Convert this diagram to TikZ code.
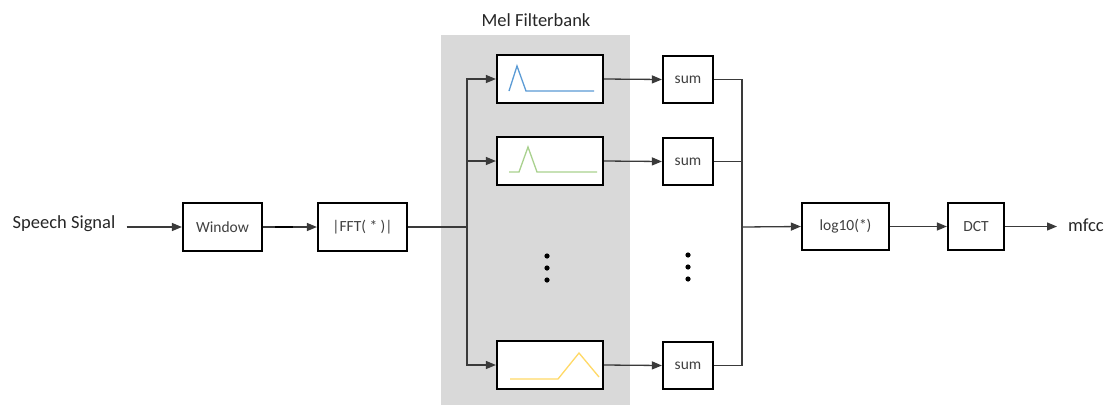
\documentclass[tikz,border=0pt]{standalone}
\usepackage{fontspec}
\setmainfont{Carlito}
\usetikzlibrary{arrows.meta}
\definecolor{bggray}{HTML}{D9D9D9}
\definecolor{linec}{HTML}{3A3A3A}
\definecolor{txtc}{HTML}{404040}
\definecolor{fblue}{HTML}{5B9BD5}
\definecolor{fgreen}{HTML}{A9D18E}
\definecolor{fyellow}{HTML}{FFD966}
\begin{document}
\begin{tikzpicture}[x=1pt,y=-1pt,
  blk/.style={draw=black, line width=2.2pt, fill=white, inner sep=0pt, text=txtc,
    font=\fontsize{15.5}{17}\selectfont},
  lbl/.style={inner sep=0pt, text=black!85, font=\fontsize{18.5}{20}\selectfont},
  conn/.style={draw=linec, line width=1.3pt},
  arr/.style={conn, -{Triangle[length=10pt,width=8pt]}},
  dotc/.style={fill=black}
]
\useasboundingbox (0,0) rectangle (1110,405);
% gray background
\fill[bggray] (441,35) rectangle (630,405);
\node[lbl] (mel) at (536,20) {Mel Filterbank};
% blocks
\node[lbl] (speech) at (64,224) {Speech Signal};
\node[blk, minimum width=79pt, minimum height=48pt] (win) at (222.5,227) {Window};
\node[blk, minimum width=89pt, minimum height=48pt] (fft) at (362.5,227) {|FFT( * )|};
\node[blk, minimum width=106pt, minimum height=48pt] (f1) at (550,79) {};
\node[blk, minimum width=106pt, minimum height=48pt] (f2) at (550,161) {};
\node[blk, minimum width=106pt, minimum height=48pt] (f3) at (550,365) {};
\node[blk, minimum width=50pt, minimum height=47pt] (s1) at (688,79.5) {sum};
\node[blk, minimum width=50pt, minimum height=47pt] (s2) at (688,161.5) {sum};
\node[blk, minimum width=50pt, minimum height=47pt] (s3) at (688,365.5) {sum};
\node[blk, minimum width=87pt, minimum height=47pt] (log) at (845.5,226.5) {log10(*)};
\node[blk, minimum width=56pt, minimum height=47pt] (dct) at (976,226.5) {DCT};
\node[lbl, anchor=west] (mfcc) at (1068,225) {mfcc};
\coordinate (split) at (467,227);
\coordinate (join) at (742,227);
% filter shapes
\draw[fblue, line width=1.3pt] (509,91) -- (517,66) -- (526,91) -- (594,91);
\draw[fgreen, line width=1.3pt] (509,172) -- (519,172) -- (528,147) -- (537,172) -- (597,172);
\draw[fyellow, line width=1.3pt] (510,379) -- (558,379) -- (579,353) -- (599,377);
% connectors
\draw[arr] ([xshift=11pt]speech.east |- win.west) -- (win.west);
\draw[arr] (win.east) -- (fft.west);
\draw[black, line width=2pt] (275,227) -- (293,227);
\draw[conn] (fft.east) -- (split);
\draw[arr] (split) |- (f1.west);
\draw[arr] (split) |- (f2.west);
\draw[arr] (split) |- (f3.west);
\draw[arr] (f1.east) -- (s1.west);
\draw[arr] (f2.east) -- (s2.west);
\draw[arr] (f3.east) -- (s3.west);
\draw[conn] (s1.east) -| (join);
\draw[conn] (s2.east) -| (join);
\draw[conn] (s3.east) -| (join);
\draw[arr] (join) -- (log.west);
\draw[arr] (log.east) -- (dct.west);
\draw[arr] (dct.east) -- ([xshift=-11pt]mfcc.west |- dct.east);
% dots
\foreach \yy in {256,268,280} \fill[dotc] (547,\yy) circle (2.6pt);
\foreach \yy in {255,267,279} \fill[dotc] (688,\yy) circle (2.6pt);
\end{tikzpicture}
\end{document}
